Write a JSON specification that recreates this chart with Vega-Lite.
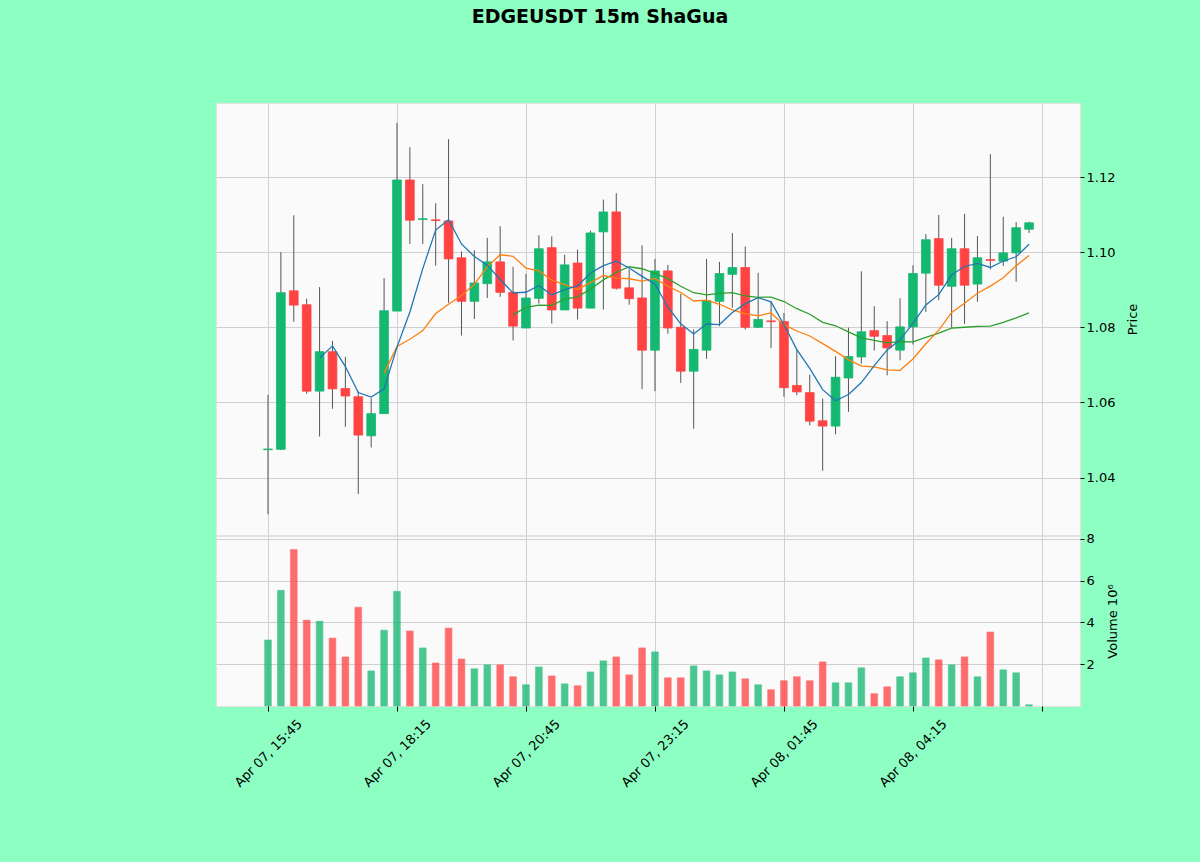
{
  "$schema": "https://vega.github.io/schema/vega-lite/v6.json",
  "background": "#8effc3",
  "autosize": {"type": "none"},
  "padding": {"left": 216, "top": 103, "right": 984, "bottom": 759},
  "title": {"text": "EDGEUSDT 15m ShaGua", "font": "DejaVu Sans", "fontSize": 19, "fontWeight": "bold", "color": "#000000", "anchor": "middle", "frame": "group", "offset": 76, "dx": -48},
  "datasets": {
    "k": [
      {"i":0,"o":1.0474,"h":1.0620,"l":1.0302,"c":1.0476,"v":3.16,"m5":null,"m10":null,"m20":null},
      {"i":1,"o":1.0475,"h":1.1000,"l":1.0473,"c":1.0892,"v":5.54,"m5":null,"m10":null,"m20":null},
      {"i":2,"o":1.0897,"h":1.1098,"l":1.0815,"c":1.0859,"v":7.49,"m5":null,"m10":null,"m20":null},
      {"i":3,"o":1.0860,"h":1.0876,"l":1.0623,"c":1.0630,"v":4.11,"m5":null,"m10":null,"m20":null},
      {"i":4,"o":1.0630,"h":1.0907,"l":1.0509,"c":1.0735,"v":4.06,"m5":1.07184,"m10":null,"m20":null},
      {"i":5,"o":1.0735,"h":1.0764,"l":1.0583,"c":1.0636,"v":3.25,"m5":1.07504,"m10":null,"m20":null},
      {"i":6,"o":1.0637,"h":1.0721,"l":1.0535,"c":1.0617,"v":2.35,"m5":1.06954,"m10":null,"m20":null},
      {"i":7,"o":1.0615,"h":1.0629,"l":1.0356,"c":1.0513,"v":4.73,"m5":1.06262,"m10":null,"m20":null},
      {"i":8,"o":1.0511,"h":1.0611,"l":1.0480,"c":1.0570,"v":1.68,"m5":1.06142,"m10":null,"m20":null},
      {"i":9,"o":1.0570,"h":1.0931,"l":1.0570,"c":1.0844,"v":3.63,"m5":1.0636,"m10":1.06772,"m20":null},
      {"i":10,"o":1.0843,"h":1.1344,"l":1.0843,"c":1.1192,"v":5.49,"m5":1.07472,"m10":1.07488,"m20":null},
      {"i":11,"o":1.1192,"h":1.1279,"l":1.1022,"c":1.1085,"v":3.59,"m5":1.08408,"m10":1.07681,"m20":null},
      {"i":12,"o":1.1087,"h":1.1181,"l":1.1022,"c":1.1089,"v":2.78,"m5":1.0956,"m10":1.07911,"m20":null},
      {"i":13,"o":1.1086,"h":1.1130,"l":1.0964,"c":1.1084,"v":2.06,"m5":1.10588,"m10":1.08365,"m20":null},
      {"i":14,"o":1.1083,"h":1.1301,"l":1.0865,"c":1.0982,"v":3.73,"m5":1.10864,"m10":1.08612,"m20":null},
      {"i":15,"o":1.0985,"h":1.1002,"l":1.0778,"c":1.0869,"v":2.25,"m5":1.10218,"m10":1.08845,"m20":null},
      {"i":16,"o":1.0869,"h":1.1005,"l":1.0822,"c":1.0918,"v":1.78,"m5":1.09884,"m10":1.09146,"m20":null},
      {"i":17,"o":1.0916,"h":1.1038,"l":1.0878,"c":1.0974,"v":1.97,"m5":1.09654,"m10":1.09607,"m20":null},
      {"i":18,"o":1.0974,"h":1.1069,"l":1.0881,"c":1.0893,"v":1.97,"m5":1.09272,"m10":1.0993,"m20":null},
      {"i":19,"o":1.0893,"h":1.0961,"l":1.0765,"c":1.0803,"v":1.40,"m5":1.08914,"m10":1.09889,"m20":1.083305},
      {"i":20,"o":1.0798,"h":1.0942,"l":1.0798,"c":1.0878,"v":1.02,"m5":1.08932,"m10":1.09575,"m20":1.085315},
      {"i":21,"o":1.0877,"h":1.1045,"l":1.0863,"c":1.1009,"v":1.87,"m5":1.09114,"m10":1.09499,"m20":1.0859},
      {"i":22,"o":1.1012,"h":1.1042,"l":1.0810,"c":1.0846,"v":1.44,"m5":1.08858,"m10":1.09256,"m20":1.085835},
      {"i":23,"o":1.0846,"h":1.0993,"l":1.0846,"c":1.0966,"v":1.06,"m5":1.09004,"m10":1.09138,"m20":1.087515},
      {"i":24,"o":1.0971,"h":1.1007,"l":1.0821,"c":1.0851,"v":0.97,"m5":1.0910,"m10":1.09007,"m20":1.088095},
      {"i":25,"o":1.0851,"h":1.1057,"l":1.0851,"c":1.1051,"v":1.63,"m5":1.09446,"m10":1.09189,"m20":1.09017},
      {"i":26,"o":1.1054,"h":1.1140,"l":1.0847,"c":1.1107,"v":2.16,"m5":1.09642,"m10":1.09378,"m20":1.09262},
      {"i":27,"o":1.1107,"h":1.1157,"l":1.0900,"c":1.0904,"v":2.35,"m5":1.09758,"m10":1.09308,"m20":1.094575},
      {"i":28,"o":1.0905,"h":1.0954,"l":1.0860,"c":1.0876,"v":1.49,"m5":1.09578,"m10":1.09291,"m20":1.096105},
      {"i":29,"o":1.0878,"h":1.1018,"l":1.0635,"c":1.0739,"v":2.78,"m5":1.09354,"m10":1.09227,"m20":1.09558},
      {"i":30,"o":1.0739,"h":1.0982,"l":1.0630,"c":1.0950,"v":2.59,"m5":1.09152,"m10":1.09299,"m20":1.09437},
      {"i":31,"o":1.0950,"h":1.0966,"l":1.0783,"c":1.0798,"v":1.35,"m5":1.08534,"m10":1.09088,"m20":1.092935},
      {"i":32,"o":1.0800,"h":1.0889,"l":1.0652,"c":1.0683,"v":1.35,"m5":1.08092,"m10":1.08925,"m20":1.090905},
      {"i":33,"o":1.0683,"h":1.0794,"l":1.0530,"c":1.0741,"v":1.92,"m5":1.07822,"m10":1.087,"m20":1.08919},
      {"i":34,"o":1.0739,"h":1.0982,"l":1.0716,"c":1.0871,"v":1.68,"m5":1.08086,"m10":1.0872,"m20":1.088635},
      {"i":35,"o":1.0869,"h":1.0974,"l":1.0803,"c":1.0943,"v":1.49,"m5":1.08072,"m10":1.08612,"m20":1.089005},
      {"i":36,"o":1.0941,"h":1.1051,"l":1.0852,"c":1.0959,"v":1.63,"m5":1.08394,"m10":1.08464,"m20":1.08921},
      {"i":37,"o":1.0959,"h":1.1015,"l":1.0794,"c":1.0800,"v":1.30,"m5":1.08628,"m10":1.0836,"m20":1.08834},
      {"i":38,"o":1.0800,"h":1.0945,"l":1.0798,"c":1.0821,"v":1.02,"m5":1.08788,"m10":1.08305,"m20":1.08798},
      {"i":39,"o":1.0817,"h":1.0869,"l":1.0745,"c":1.0815,"v":0.78,"m5":1.08676,"m10":1.08381,"m20":1.08804},
      {"i":40,"o":1.0815,"h":1.0838,"l":1.0615,"c":1.0639,"v":1.21,"m5":1.08068,"m10":1.0807,"m20":1.086845},
      {"i":41,"o":1.0645,"h":1.0741,"l":1.0619,"c":1.0628,"v":1.40,"m5":1.07406,"m10":1.079,"m20":1.08494},
      {"i":42,"o":1.0626,"h":1.0674,"l":1.0539,"c":1.0550,"v":1.21,"m5":1.06906,"m10":1.07767,"m20":1.08346},
      {"i":43,"o":1.0551,"h":1.0610,"l":1.0418,"c":1.0537,"v":2.11,"m5":1.06338,"m10":1.07563,"m20":1.081315},
      {"i":44,"o":1.0537,"h":1.0723,"l":1.0515,"c":1.0667,"v":1.11,"m5":1.06042,"m10":1.07359,"m20":1.080395},
      {"i":45,"o":1.0665,"h":1.0799,"l":1.0575,"c":1.0722,"v":1.11,"m5":1.06208,"m10":1.07138,"m20":1.07875},
      {"i":46,"o":1.0721,"h":1.0949,"l":1.0703,"c":1.0788,"v":1.83,"m5":1.06528,"m10":1.06967,"m20":1.077155},
      {"i":47,"o":1.0791,"h":1.0856,"l":1.0738,"c":1.0776,"v":0.59,"m5":1.0698,"m10":1.06943,"m20":1.076515},
      {"i":48,"o":1.0778,"h":1.0816,"l":1.0672,"c":1.0745,"v":0.92,"m5":1.07396,"m10":1.06867,"m20":1.07586},
      {"i":49,"o":1.0739,"h":1.0877,"l":1.0712,"c":1.0801,"v":1.40,"m5":1.07664,"m10":1.06853,"m20":1.07617},
      {"i":50,"o":1.0801,"h":1.0965,"l":1.0754,"c":1.0943,"v":1.59,"m5":1.08106,"m10":1.07157,"m20":1.076135},
      {"i":51,"o":1.0944,"h":1.1048,"l":1.0841,"c":1.1033,"v":2.30,"m5":1.08596,"m10":1.07562,"m20":1.07731},
      {"i":52,"o":1.1036,"h":1.1099,"l":1.0872,"c":1.0912,"v":2.21,"m5":1.08868,"m10":1.07924,"m20":1.078455},
      {"i":53,"o":1.0909,"h":1.1038,"l":1.0799,"c":1.1009,"v":1.97,"m5":1.09396,"m10":1.08396,"m20":1.079795},
      {"i":54,"o":1.1009,"h":1.1102,"l":1.0809,"c":1.0912,"v":2.35,"m5":1.09618,"m10":1.08641,"m20":1.08},
      {"i":55,"o":1.0915,"h":1.1043,"l":1.0868,"c":1.0985,"v":1.40,"m5":1.09702,"m10":1.08904,"m20":1.08021},
      {"i":56,"o":1.0980,"h":1.1261,"l":1.0954,"c":1.0978,"v":3.54,"m5":1.09592,"m10":1.09094,"m20":1.080305},
      {"i":57,"o":1.0976,"h":1.1094,"l":1.0963,"c":1.0998,"v":1.73,"m5":1.09764,"m10":1.09316,"m20":1.081295},
      {"i":58,"o":1.0998,"h":1.1080,"l":1.0921,"c":1.1065,"v":1.59,"m5":1.09876,"m10":1.09636,"m20":1.082515},
      {"i":59,"o":1.1061,"h":1.1081,"l":1.1051,"c":1.1078,"v":0.06,"m5":1.10208,"m10":1.09913,"m20":1.08383}
    ]
  },
  "data": {"name": "k"},
  "spacing": -4,
  "vconcat": [
    {
      "width": 864,
      "height": 432,
      "layer": [
        {
          "mark": {"type": "rule", "color": "#555555", "strokeWidth": 1},
          "encoding": {
            "x": {"field": "i", "type": "quantitative", "scale": {"domain": [-4.03, 62.95], "nice": false, "zero": false, "padding": 0},
                  "axis": {"values": [0, 10, 20, 30, 40, 50, 60], "labels": false, "ticks": false, "domain": false, "title": null, "grid": true, "tickSize": 0, "labelPadding": 0, "minExtent": 0, "maxExtent": 0, "offset": 0}},
            "y": {"field": "l", "type": "quantitative", "title": "Price", "scale": {"domain": [1.0247, 1.1397], "nice": false, "zero": false, "padding": 0},
                  "axis": {"orient": "right", "values": [1.04, 1.06, 1.08, 1.10, 1.12], "format": ".2f", "tickSize": 4, "grid": true, "titleAngle": 270, "titleBaseline": "top", "titlePadding": 12}},
            "y2": {"field": "h"}
          }
        },
        {
          "mark": {"type": "bar", "size": 8.7, "strokeWidth": 0.8},
          "encoding": {
            "x": {"field": "i", "type": "quantitative"},
            "y": {"field": "o", "type": "quantitative", "title": "Price"},
            "y2": {"field": "c"},
            "color": {"condition": {"test": "datum.c >= datum.o", "value": "#14b870"}, "value": "#ff4242"},
            "stroke": {"condition": {"test": "datum.c >= datum.o", "value": "#14b870"}, "value": "#ff4242"}
          }
        },
        {
          "mark": {"type": "line", "color": "#2ca02c", "strokeWidth": 1.3},
          "encoding": {"x": {"field": "i", "type": "quantitative"}, "y": {"field": "m20", "type": "quantitative", "title": "Price"}}
        },
        {
          "mark": {"type": "line", "color": "#ff7f0e", "strokeWidth": 1.3},
          "encoding": {"x": {"field": "i", "type": "quantitative"}, "y": {"field": "m10", "type": "quantitative", "title": "Price"}}
        },
        {
          "mark": {"type": "line", "color": "#1f77b4", "strokeWidth": 1.3},
          "encoding": {"x": {"field": "i", "type": "quantitative"}, "y": {"field": "m5", "type": "quantitative", "title": "Price"}}
        }
      ]
    },
    {
      "width": 864,
      "height": 170,
      "mark": {"type": "bar", "size": 6.7, "opacity": 0.76, "strokeWidth": 0.6},
      "encoding": {
        "x": {"field": "i", "type": "quantitative", "scale": {"domain": [-4.03, 62.95], "nice": false, "zero": false, "padding": 0},
              "axis": {"values": [0, 10, 20, 30, 40, 50, 60], "title": null, "grid": true, "tickSize": 5, "labelAngle": -45, "labelAlign": "center", "labelBaseline": "middle", "labelPadding": 42,
                       "labelExpr": "datum.value == 0 ? 'Apr 07, 15:45' : datum.value == 10 ? 'Apr 07, 18:15' : datum.value == 20 ? 'Apr 07, 20:45' : datum.value == 30 ? 'Apr 07, 23:15' : datum.value == 40 ? 'Apr 08, 01:45' : datum.value == 50 ? 'Apr 08, 04:15' : ''"}},
        "y": {"field": "v", "type": "quantitative", "title": "Volume  10⁶", "scale": {"domain": [0, 8.14], "nice": false, "padding": 0},
              "axis": {"orient": "right", "values": [2, 4, 6, 8], "tickSize": 4, "grid": true, "titleAngle": 270, "titleBaseline": "top", "titlePadding": 12}},
        "color": {"condition": {"test": "datum.c >= datum.o", "value": "#14b870"}, "value": "#ff4242"},
        "stroke": {"condition": {"test": "datum.c >= datum.o", "value": "#14b870"}, "value": "#ff4242"}
      }
    }
  ],
  "config": {
    "view": {"fill": "#fafafa", "stroke": "#e2e2e2"},
    "axis": {"labelFont": "DejaVu Sans", "titleFont": "DejaVu Sans", "labelFontSize": 13, "titleFontSize": 13, "titleFontWeight": "normal",
             "labelColor": "#000000", "titleColor": "#000000", "gridColor": "#d0d0d0", "gridWidth": 1, "tickColor": "#000000", "domain": false}
  }
}
